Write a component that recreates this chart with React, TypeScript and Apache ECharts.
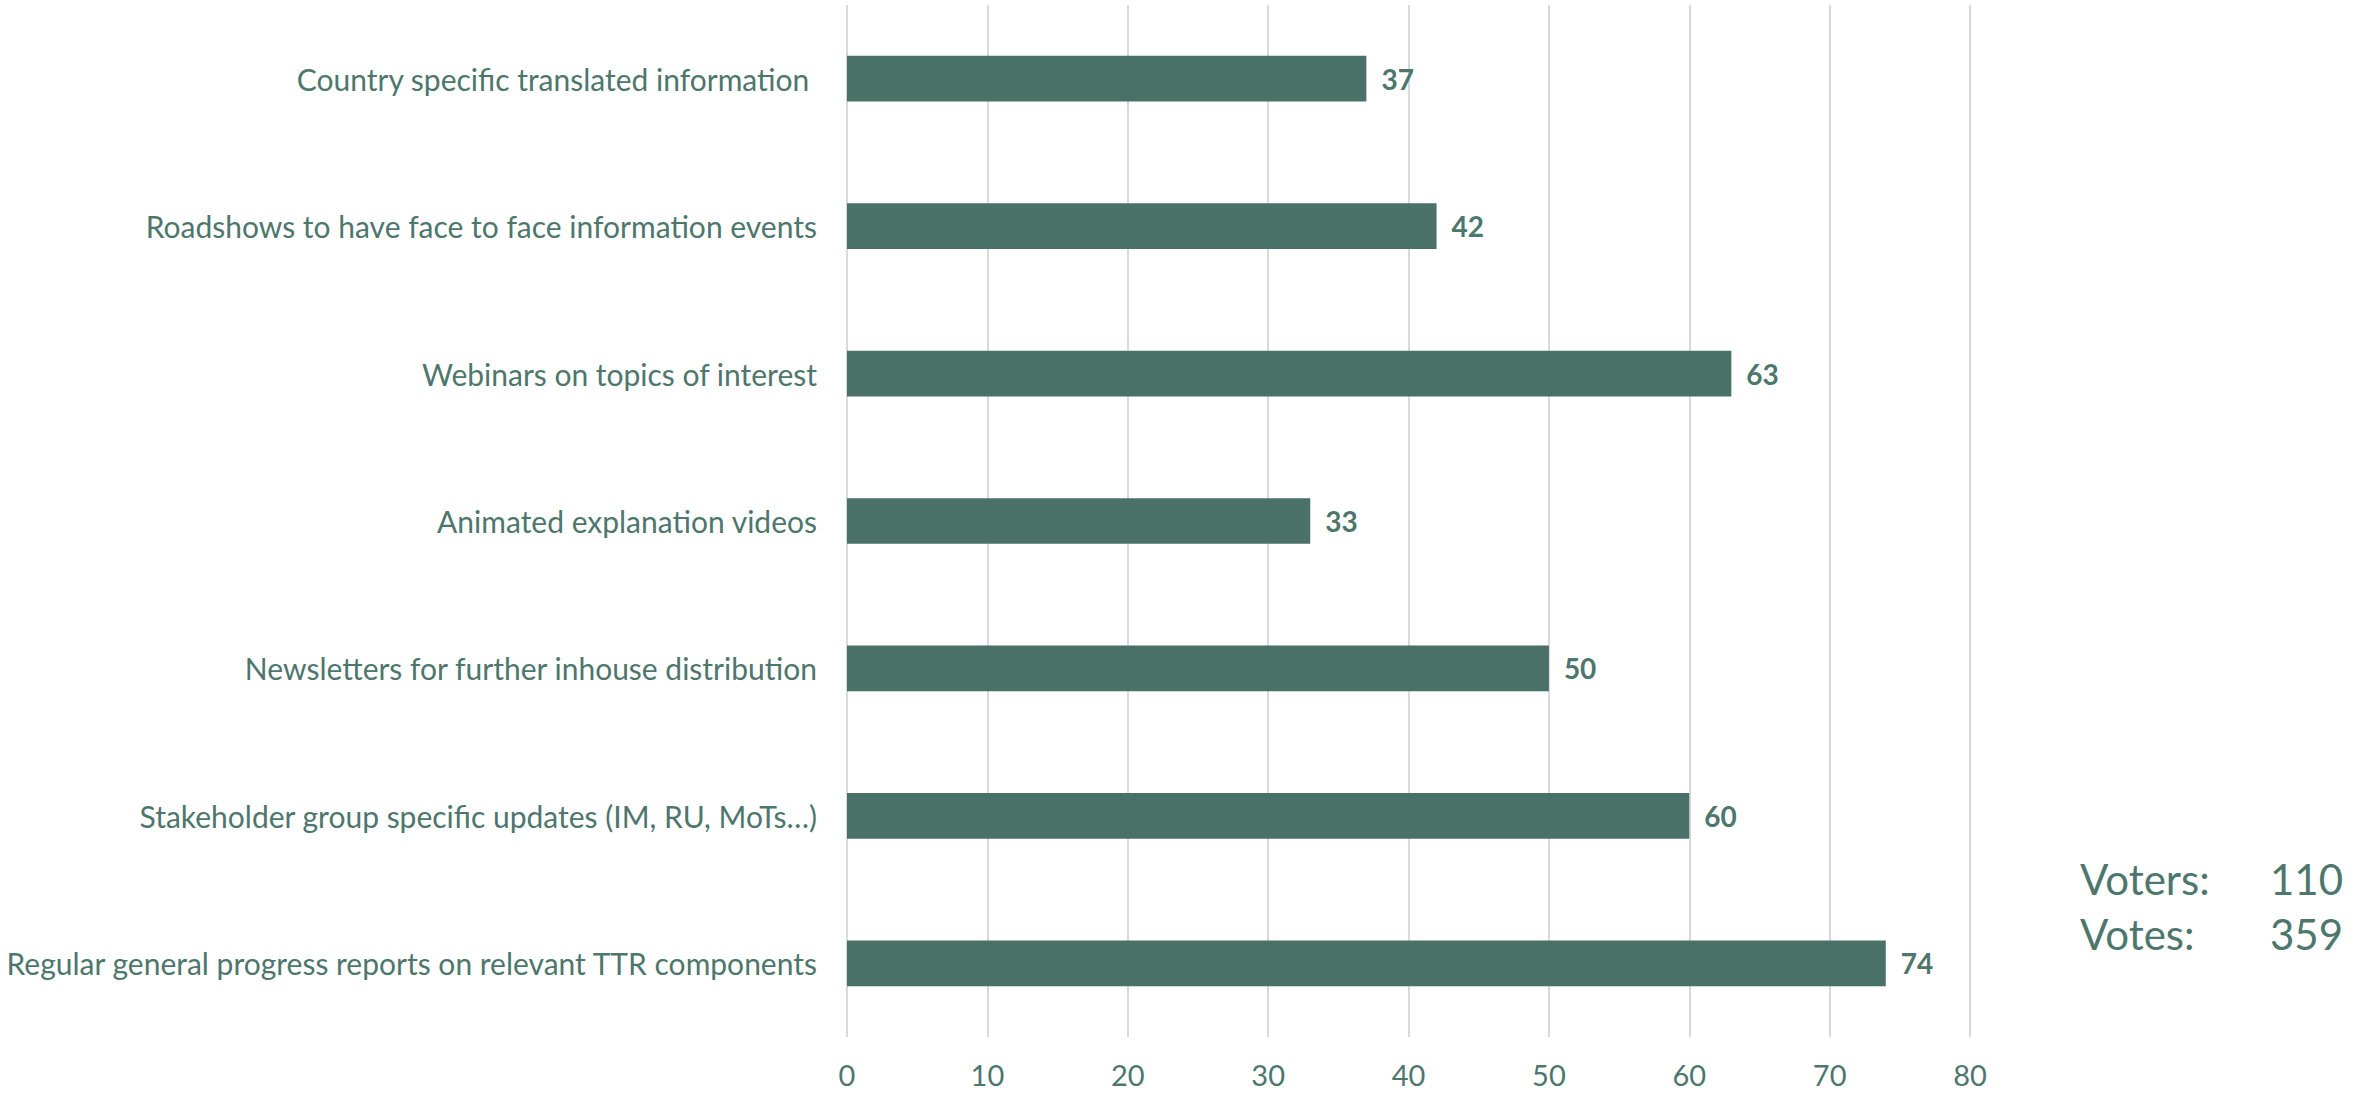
import React, { useEffect, useRef } from "react";
import * as echarts from "echarts";

const categories = [
  "Country specific translated information ",
  "Roadshows to have face to face information events",
  "Webinars on topics of interest",
  "Animated explanation videos",
  "Newsletters for further inhouse distribution",
  "Stakeholder group specific updates (IM, RU, MoTs…)",
  "Regular general progress reports on relevant TTR components",
];
const values = [37, 42, 63, 33, 50, 60, 74];
const summaryLabels = ["Voters:", "Votes:"];
const summaryValues = ["110", "359"];

const GREEN = "#4a7168";
const TEXT = "#4d766c";
const FONT = "Lato, 'Open Sans', sans-serif";

export default function App() {
  const ref = useRef<HTMLDivElement>(null);
  useEffect(() => {
    document.body.style.margin = "0";
    const chart = echarts.init(ref.current!, undefined, { renderer: "svg" });
    chart.setOption({
      animation: false,
      backgroundColor: "#ffffff",
      grid: { left: 847, right: 404, top: 5, bottom: 56, containLabel: false },
      xAxis: {
        type: "value",
        min: 0,
        max: 80,
        interval: 10,
        axisLine: { show: false },
        axisTick: { show: false },
        splitLine: { show: true, lineStyle: { color: "#d9d9d9", width: 2 } },
        axisLabel: {
          color: TEXT,
          fontFamily: FONT,
          fontSize: 29,
          lineHeight: 30,
          margin: 22,
        },
      },
      yAxis: {
        type: "category",
        data: categories,
        inverse: true,
        axisLine: { show: false },
        axisTick: { show: false },
        axisLabel: { color: TEXT, fontFamily: FONT, fontSize: 30, margin: 30 },
      },
      series: [
        {
          type: "bar",
          data: values,
          barWidth: "31%",
          itemStyle: { color: GREEN },
          label: {
            show: true,
            position: "right",
            distance: 15,
            color: TEXT,
            fontFamily: FONT,
            fontSize: 28,
            fontWeight: "bold",
          },
        },
      ],
      graphic: summaryLabels.flatMap((lab, i) => [
        {
          type: "text",
          left: 2080,
          top: 858 + i * 55,
          style: { text: lab, fill: TEXT, font: `42px ${FONT}` },
        },
        {
          type: "text",
          right: 2374 - 2343,
          top: 858 + i * 55,
          style: { text: summaryValues[i], fill: TEXT, font: `42px ${FONT}` },
        },
      ]),
    });
    return () => chart.dispose();
  }, []);
  return <div ref={ref} style={{ width: 2374, height: 1093 }} />;
}
